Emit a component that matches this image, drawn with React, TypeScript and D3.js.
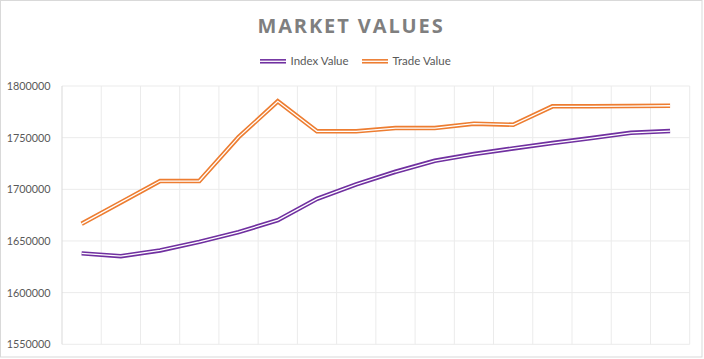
import React from "react";
import * as d3 from "d3";

const categories = d3.range(1, 17).map(String);
const indexValues = [1638000, 1635300, 1640800, 1649100, 1658500, 1670200, 1690800, 1704700, 1717000, 1727600, 1734100, 1739600, 1744800, 1749600, 1754700, 1756400];
const tradeValues = [1666600, 1687300, 1708000, 1708000, 1750500, 1785200, 1756100, 1756100, 1759300, 1759300, 1763500, 1762500, 1780300, 1780300, 1780600, 1780900];
const yTicks = [1550000, 1600000, 1650000, 1700000, 1750000, 1800000];
const seriesNames = ["Index Value", "Trade Value"];
const colors = ["#7030a0", "#ed7d31"];

const W = 704, H = 359;
const L = 62, R = 689.7, T = 86, B = 344.3;

export default function App() {
  const x = d3.scaleBand().domain(categories).range([L, R]);
  const y = d3.scaleLinear().domain([1550000, 1800000]).range([B, T]);
  const line = d3.line<number>().x((_, i) => x(categories[i])! + x.bandwidth() / 2).y((d) => y(d));
  const series = [indexValues, tradeValues];
  const font = "Lato, 'Open Sans', sans-serif";
  const boundaries = categories.map((c) => x(c)!).concat([R]);
  const legendX = [260, 362];
  return (
    <svg width={W} height={H} style={{ position: "absolute", left: 0, top: 0 }} fontFamily={font}>
      <rect x={0.5} y={0.5} width={701.5} height={356.5} fill="#fff" stroke="#d9d9d9" />
      <text x={351} y={33} textAnchor="middle" fontSize={20} fontWeight="bold" fill="#7f7f7f" letterSpacing={1.9} fontFamily="'Open Sans', sans-serif">MARKET VALUES</text>
      {seriesNames.map((n, i) => (
        <g key={n}>
          <line x1={legendX[i]} x2={legendX[i] + 26} y1={61.3} y2={61.3} stroke={colors[i]} strokeWidth={4.5} />
          <line x1={legendX[i]} x2={legendX[i] + 26} y1={61.3} y2={61.3} stroke="#fff" strokeWidth={1.3} />
          <text x={legendX[i] + 30.5} y={65.2} fontSize={11.5} fill="#595959">{n}</text>
        </g>
      ))}
      {yTicks.map((t) => (
        <g key={t}>
          <line x1={L} x2={R} y1={y(t)} y2={y(t)} stroke="#ebebeb" strokeWidth={1} />
          <text x={50.5} y={y(t) + 4} textAnchor="end" fontSize={10.8} fill="#595959">{t}</text>
        </g>
      ))}
      {boundaries.slice(1).map((bx, i) => (
        <line key={i} x1={bx} x2={bx} y1={T} y2={B} stroke="#ebebeb" strokeWidth={1} />
      ))}
      <line x1={L} x2={L} y1={T} y2={B} stroke="#d9d9d9" strokeWidth={1} />
      {series.map((s, i) => (
        <g key={i}>
          <path d={line(s)!} fill="none" stroke={colors[i]} strokeWidth={4.5} strokeLinejoin="miter" />
          <path d={line(s)!} fill="none" stroke="#fff" strokeWidth={1.3} strokeLinejoin="miter" />
        </g>
      ))}
    </svg>
  );
}
